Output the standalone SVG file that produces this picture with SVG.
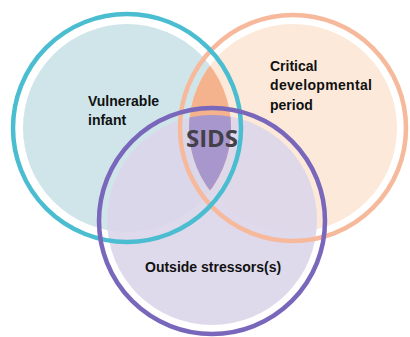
<svg xmlns="http://www.w3.org/2000/svg" width="410" height="337" viewBox="0 0 410 337">
<style>
.ring{fill:none;stroke-width:4.5}
.lbl{font-family:"Liberation Sans",Arial,sans-serif;font-weight:bold;font-size:14px;fill:#111}
</style>
<defs>
<clipPath id="cBlue"><circle cx="127" cy="128" r="104"/></clipPath>
<clipPath id="cPurple"><circle cx="212" cy="220" r="105"/></clipPath>
</defs>
<rect width="410" height="337" fill="#fff"/>
<g id="vulnerable-infant">
<circle cx="127" cy="128" r="104" fill="#cfe5ea"/>
</g>
<g id="critical-period">
<circle cx="293" cy="128" r="104" fill="#fce9da"/>
</g>
<g id="outside-stressors">
<circle cx="212" cy="220" r="105" fill="#dcd6ea" fill-opacity="0.92"/>
</g>
<g id="sids">
<circle cx="293" cy="128" r="104" fill="#f4b38c" clip-path="url(#cBlue)"/>
<g clip-path="url(#cPurple)"><circle cx="293" cy="128" r="104" fill="#a797cd" clip-path="url(#cBlue)"/></g>
</g>
<g id="rings">
<circle class="ring" cx="293" cy="128" r="113" stroke="#f7b99b"/>
<circle class="ring" cx="127" cy="128" r="114" stroke="#4bbdd1"/>
<circle class="ring" cx="212" cy="221" r="113" stroke="#7967bb"/>
</g>
<g id="labels">
<text class="lbl" x="88" y="106">Vulnerable</text>
<text class="lbl" x="88" y="125">infant</text>
<text class="lbl" x="270" y="71">Critical</text>
<text class="lbl" x="270" y="90" textLength="102">developmental</text>
<text class="lbl" x="270" y="110">period</text>
<text class="lbl" x="145" y="272">Outside stressors(s)</text>
<text x="212" y="147" text-anchor="middle" font-family="'Open Sans','Liberation Sans',sans-serif" font-size="24" font-weight="bold" fill="#44404a">SIDS</text>
</g>
</svg>
